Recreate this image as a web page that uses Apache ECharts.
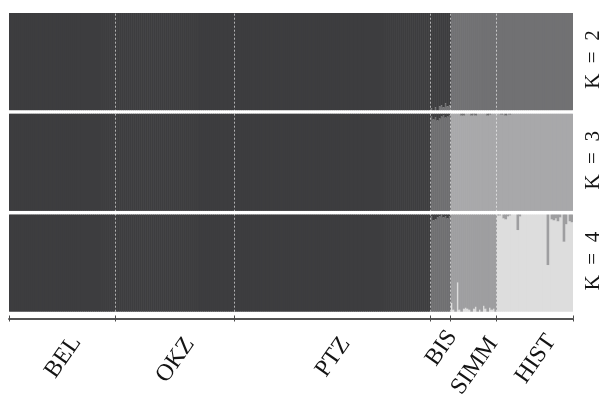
<!DOCTYPE html>
<html>
<head>
<meta charset="utf-8">
<script src="https://cdn.jsdelivr.net/npm/echarts@6/dist/echarts.min.js"></script>
<style>
  html, body { margin: 0; padding: 0; background: #fff; }
  #chart { width: 608px; height: 399px; }
</style>
</head>
<body>
<div id="chart"></div>
<script>
// populations along the x axis and how many individuals each one has
const groups = ['BEL', 'OKZ', 'PTZ', 'BIS', 'SIMM', 'HIST'];
const groupSizes = [53, 59, 98, 10, 23, 38];

// K values of the three panels
const kValues = [2, 3, 4];

// cluster each population is assigned to (0 = dark cluster)
const mainK2 = [0, 0, 0, 0, 1, 1];
const mainK3 = [0, 0, 0, 1, 2, 2];
const mainK4 = [0, 0, 0, 1, 2, 3];

// admixed individuals: [group, individual, cluster, q]
const admixK2 = [
  [3, 0, 1, 0.02], [3, 2, 1, 0.03], [3, 4, 1, 0.04], [3, 5, 1, 0.05],
  [3, 6, 1, 0.03], [3, 7, 1, 0.07], [3, 8, 1, 0.04], [3, 9, 1, 0.05],
];
const admixK3 = [
  [3, 0, 0, 0.03], [3, 1, 0, 0.06], [3, 2, 0, 0.04], [3, 3, 0, 0.07], [3, 4, 0, 0.05],
  [3, 5, 0, 0.03], [3, 6, 0, 0.02], [3, 7, 0, 0.04], [3, 8, 0, 0.03], [3, 9, 0, 0.02],
  [4, 5, 1, 0.02], [4, 6, 1, 0.02], [4, 10, 1, 0.02], [4, 11, 1, 0.01],
  [4, 12, 1, 0.02], [4, 18, 1, 0.02], [4, 19, 1, 0.01],
  [5, 2, 1, 0.01], [5, 4, 1, 0.02], [5, 6, 1, 0.01],
];
const admixK4 = [
  [3, 0, 0, 0.02], [3, 1, 0, 0.06], [3, 2, 0, 0.05], [3, 3, 0, 0.03], [3, 4, 0, 0.02],
  [3, 5, 0, 0.01], [3, 6, 0, 0.03], [3, 7, 0, 0.02], [3, 8, 0, 0.04], [3, 9, 0, 0.02],
  [4, 0, 3, 0.09], [4, 1, 3, 0.02], [4, 3, 3, 0.30], [4, 4, 3, 0.02], [4, 6, 3, 0.03],
  [4, 7, 3, 0.04], [4, 8, 3, 0.03], [4, 9, 3, 0.02], [4, 11, 3, 0.03], [4, 12, 3, 0.05],
  [4, 14, 3, 0.02], [4, 16, 3, 0.06], [4, 17, 3, 0.03], [4, 19, 3, 0.04], [4, 20, 3, 0.02],
  [4, 21, 3, 0.03],
  [5, 0, 2, 0.01], [5, 1, 2, 0.01], [5, 3, 2, 0.04], [5, 4, 2, 0.05], [5, 5, 2, 0.02],
  [5, 6, 2, 0.01], [5, 10, 2, 0.16], [5, 11, 2, 0.02], [5, 25, 2, 0.52], [5, 27, 2, 0.05],
  [5, 28, 2, 0.06], [5, 29, 2, 0.04], [5, 30, 2, 0.07], [5, 31, 2, 0.03], [5, 33, 2, 0.28],
  [5, 34, 2, 0.10], [5, 36, 2, 0.07], [5, 37, 2, 0.08],
];

const clusterColors = {
  2: ['#3d3d3f', '#717173'],
  3: ['#3d3d3f', '#6e6e70', '#a8a8aa'],
  4: ['#3d3d3f', '#6f6f71', '#9e9ea0', '#dddddd'],
};

const serif = '"Liberation Serif", "DejaVu Serif", serif';
const panelTops = [13, 113.7, 214.5];
const panelHeight = 97.2;
const left = 9;
const right = 35;

const total = groupSizes.reduce((a, b) => a + b, 0);
const bounds = [0];
groupSizes.forEach((n) => bounds.push(bounds[bounds.length - 1] + n));

// q matrix for one K: rows = clusters, cols = individuals
function buildQ(k, main, admix) {
  const q = Array.from({ length: k }, () => []);
  groups.forEach((g, gi) => {
    for (let i = 0; i < groupSizes[gi]; i++) {
      const row = new Array(k).fill(0);
      row[main[gi]] = 1;
      admix
        .filter((a) => a[0] === gi && a[1] === i)
        .forEach((a) => {
          row[a[2]] += a[3];
          row[main[gi]] -= a[3];
        });
      row.forEach((v, c) => q[c].push(+v.toFixed(3)));
    }
  });
  return q;
}

const qs = [
  buildQ(2, mainK2, admixK2),
  buildQ(3, mainK3, admixK3),
  buildQ(4, mainK4, admixK4),
];

const individuals = Array.from({ length: total }, (_, i) => 'ind' + i);

const grids = [];
const xAxes = [];
const yAxes = [];
const series = [];

kValues.forEach((k, p) => {
  grids.push({ left, right, top: panelTops[p], height: panelHeight });
  xAxes.push({ type: 'category', gridIndex: p, data: individuals, show: false });
  yAxes.push({ type: 'value', gridIndex: p, min: 0, max: 1, show: false });
  // lightest cluster at the bottom, dark cluster on top
  for (let c = k - 1; c >= 0; c--) {
    series.push({
      type: 'bar',
      xAxisIndex: p,
      yAxisIndex: p,
      stack: 'K' + k,
      data: qs[p][c],
      barWidth: 2.6,
      barGap: '-100%',
      itemStyle: { color: clusterColors[k][c] },
      silent: true,
    });
  }
});

// overlay grid for the dashed population borders
grids.push({ left, right, top: panelTops[0], bottom: 399 - panelTops[2] - panelHeight });
xAxes.push({ type: 'value', gridIndex: 3, min: 0, max: total, show: false });
yAxes.push({ type: 'value', gridIndex: 3, min: 0, max: 1, show: false });
series.push({
  type: 'line',
  xAxisIndex: 3,
  yAxisIndex: 3,
  data: [],
  silent: true,
  z: 5,
  markLine: {
    silent: true,
    symbol: 'none',
    label: { show: false },
    lineStyle: { color: 'rgba(255,255,255,0.6)', type: [2, 2], width: 1 },
    data: bounds.slice(1, -1).map((b) => ({ xAxis: b })),
  },
});

// bottom axis with ticks at population borders
grids.push({ left, right, top: 318.5, height: 0 });
const axisLineStyle = { color: '#4a4a4a', width: 1.5 };
['bottom', 'top'].forEach((pos) => {
  xAxes.push({
    type: 'value',
    gridIndex: 4,
    position: pos,
    min: 0,
    max: total,
    axisLine: { show: true, lineStyle: axisLineStyle },
    axisTick: { show: true, length: 3, customValues: bounds, lineStyle: { color: '#4a4a4a', width: 1 } },
    axisLabel: { show: false },
    splitLine: { show: false },
  });
});
yAxes.push({ type: 'value', gridIndex: 4, show: false });

const chart = echarts.init(document.getElementById('chart'));
chart.setOption({
  animation: false,
  backgroundColor: '#fff',
  grid: grids,
  xAxis: xAxes,
  yAxis: yAxes,
  series,
});

// text: population names and K labels
const labelDy = [0, 3, 0, -9, 9, 2];
const graphics = [];
groups.forEach((g, gi) => {
  const mid = (bounds[gi] + bounds[gi + 1]) / 2;
  const x = chart.convertToPixel({ xAxisIndex: 3 }, mid);
  graphics.push({
    type: 'text',
    x: x + 1,
    y: 357 + labelDy[gi],
    rotation: (55 * Math.PI) / 180,
    style: {
      text: g,
      fontFamily: serif,
      fontSize: 24,
      fill: '#141414',
      align: 'center',
      verticalAlign: 'middle',
    },
  });
});
kValues.forEach((k, p) => {
  graphics.push({
    type: 'text',
    x: 593,
    y: panelTops[p] + panelHeight / 2 - 2,
    rotation: Math.PI / 2,
    style: {
      text: 'K\u2002=\u2002' + k,
      fontFamily: serif,
      fontSize: 21,
      fill: '#141414',
      align: 'center',
      verticalAlign: 'middle',
    },
  });
});
chart.setOption({ graphic: graphics });
</script>
</body>
</html>
